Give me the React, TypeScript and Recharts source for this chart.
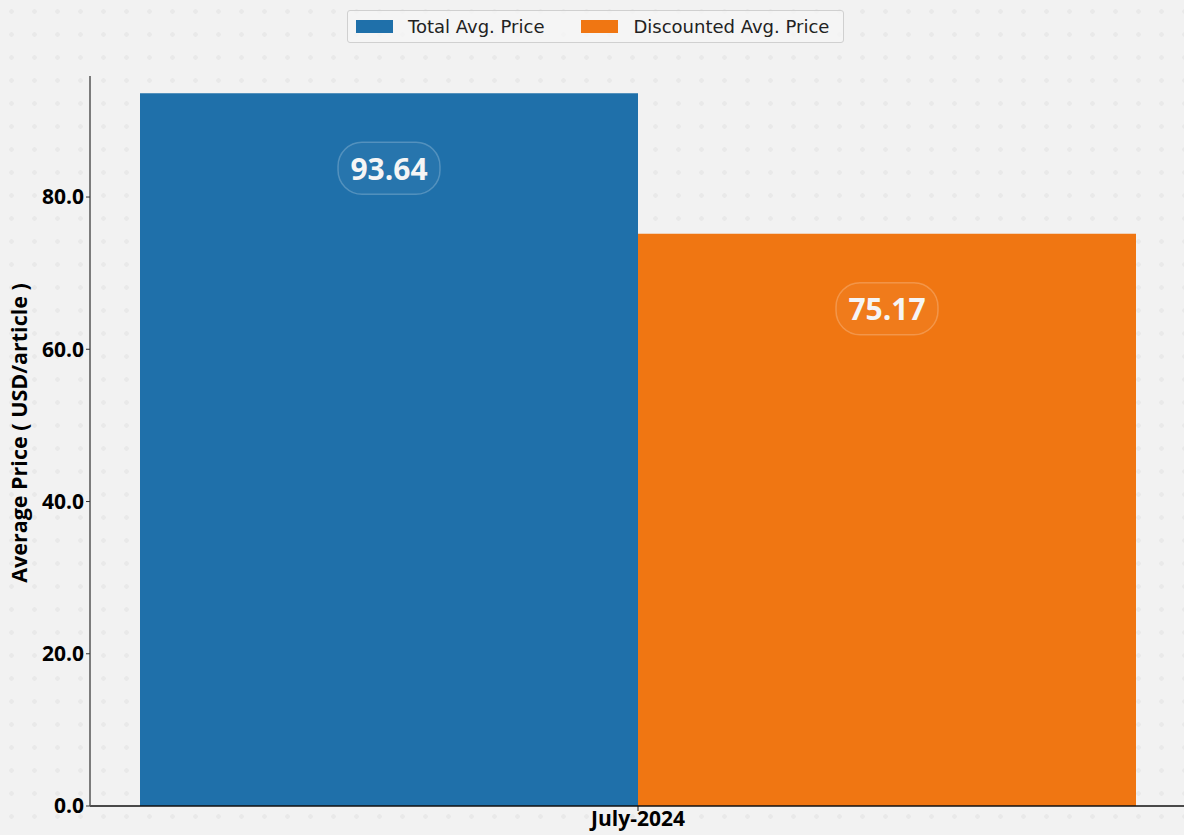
import { Bar, BarChart, LabelList, XAxis, YAxis } from "recharts";

const months = ["July-2024"];
const totalAvg = [93.64];
const discountedAvg = [75.17];
const yTicks = [0, 20, 40, 60, 80];

const data = months.map((m, i) => ({
  month: m,
  total: totalAvg[i],
  discounted: discountedAvg[i],
}));

const FONT = "'Open Sans', 'Noto Sans', sans-serif";

const SERIES = [
  { key: "total", name: "Total Avg. Price", color: "#1f70aa" },
  { key: "discounted", name: "Discounted Avg. Price", color: "#f07612" },
];

function PillLabel(props: any) {
  const { x, y, width, value } = props;
  const cx = x + width / 2;
  const cy = y + 75;
  return (
    <g>
      <rect
        x={cx - 51}
        y={cy - 26}
        width={102}
        height={52}
        rx={24}
        fill="rgba(255,255,255,0.04)"
        stroke="rgba(255,255,255,0.22)"
        strokeWidth={1.5}
      />
      <text
        x={cx}
        y={cy}
        textAnchor="middle"
        dominantBaseline="central"
        fill="#f5f5f5"
        fontFamily={FONT}
        fontWeight={700}
        fontSize={30}
      >
        {Number(value).toFixed(2)}
      </text>
    </g>
  );
}

function LegendBox() {
  return (
    <div
      style={{
        position: "absolute",
        left: 347,
        top: 10,
        width: 497,
        height: 33,
        boxSizing: "border-box",
        display: "flex",
        alignItems: "center",
        gap: 37,
        padding: "0 8px",
        border: "1px solid #d0d0d0",
        borderRadius: 3,
        background: "rgba(245,245,245,0.8)",
        fontFamily: "'DejaVu Sans', sans-serif",
        fontSize: 18,
        color: "#222",
        whiteSpace: "nowrap",
      }}
    >
      {SERIES.map((it) => (
        <span key={it.name} style={{ display: "flex", alignItems: "center" }}>
          <span
            style={{
              display: "inline-block",
              width: 37,
              height: 13,
              background: it.color,
              marginRight: 15,
            }}
          />
          {it.name}
        </span>
      ))}
    </div>
  );
}

export default function App() {
  return (
    <div
      style={{
        position: "fixed",
        left: 0,
        top: 0,
        width: 1184,
        height: 835,
        backgroundColor: "#f2f2f2",
        backgroundImage:
          "radial-gradient(circle, rgba(0,0,0,0.035) 2px, transparent 2.5px)",
        backgroundSize: "23px 23px",
      }}
    >
      <BarChart
        width={1184}
        height={835}
        data={data}
        margin={{ top: 76, right: -2, bottom: 0, left: 0 }}
        barCategoryGap={50}
        barGap={0}
      >
        <XAxis
          dataKey="month"
          height={29}
          axisLine={{ stroke: "#111", strokeWidth: 1.5 }}
          tickLine={{ stroke: "#111" }}
          tickSize={5}
          tick={{ fill: "#000", fontSize: 21, fontWeight: 700, fontFamily: FONT }}
          dy={-2}
        />
        <YAxis
          width={90}
          domain={[0, 95.9]}
          ticks={yTicks}
          tickFormatter={(v: number) => v.toFixed(1)}
          axisLine={{ stroke: "#555", strokeWidth: 1.5 }}
          tickLine={{ stroke: "#333" }}
          tickSize={4}
          tick={{ fill: "#000", fontSize: 21, fontWeight: 700, fontFamily: FONT }}
          label={{
            value: "Average Price ( USD/article )",
            angle: -90,
            position: "insideLeft",
            dx: 14,
            dy: -8,
            style: {
              textAnchor: "middle",
              fill: "#000",
              fontSize: 21.5,
              fontWeight: 700,
              fontFamily: FONT,
            },
          }}
        />
        {SERIES.map((s) => (
          <Bar
            key={s.key}
            dataKey={s.key}
            name={s.name}
            fill={s.color}
            isAnimationActive={false}
          >
            <LabelList dataKey={s.key} content={PillLabel} />
          </Bar>
        ))}
      </BarChart>
      <LegendBox />
    </div>
  );
}
